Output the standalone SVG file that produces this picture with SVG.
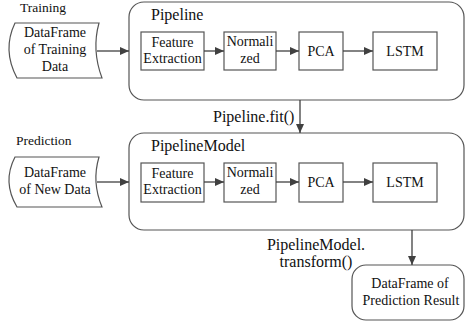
<svg xmlns="http://www.w3.org/2000/svg" width="466" height="327" viewBox="0 0 466 327">
<defs>
<marker id="ah" markerWidth="10" markerHeight="8" refX="9" refY="4" orient="auto" markerUnits="userSpaceOnUse">
<path d="M0,0 L9,4 L0,8 Z" fill="#404040"/>
</marker>
<style>
.c{text-anchor:middle;font-size:14px;}
.lbl{font-size:13.5px;}
.t{font-size:16px;}
.box{fill:#fff;stroke:#555;stroke-width:1.2;}
.con{fill:none;stroke:#404040;stroke-width:1.3;marker-end:url(#ah);}
</style>
</defs>
<g font-family="Liberation Serif, serif" fill="#111">
<g id="training-label"><text class="lbl" x="20" y="12">Training</text></g>
<g id="training-data">
<path class="box" d="M15,23 L99,23 Q91.5,50 102,78 L17,78 Q2,50 15,23 Z"/>
<text class="c" x="55" y="37">DataFrame</text>
<text class="c" x="55" y="54">of Training</text>
<text class="c" x="55" y="71">Data</text>
</g>
<g id="pipeline">
<rect class="box" x="129" y="2" width="335" height="98" rx="15"/>
<text class="t" x="151" y="20">Pipeline</text>
</g>
<g id="p-fe"><rect class="box" x="141" y="32" width="63" height="38"/><text class="c" x="172.5" y="47">Feature</text><text class="c" x="172.5" y="63">Extraction</text></g>
<g id="p-norm"><rect class="box" x="224" y="32" width="52" height="38"/><text class="c" x="250" y="46">Normali</text><text class="c" x="250" y="63">zed</text></g>
<g id="p-pca"><rect class="box" x="299" y="32" width="44" height="38"/><text class="c" x="321" y="56">PCA</text></g>
<g id="p-lstm"><rect class="box" x="373" y="32" width="64" height="38"/><text class="c" x="405" y="56">LSTM</text></g>
<g id="prediction-label"><text class="lbl" x="16" y="145">Prediction</text></g>
<g id="new-data">
<path class="box" d="M15,157 L99,157 Q91.5,182 102,207 L17,207 Q2,182 15,157 Z"/>
<text class="c" x="55" y="177">DataFrame</text>
<text class="c" x="55" y="194">of New Data</text>
</g>
<g id="pipeline-model">
<rect class="box" x="129" y="133" width="335" height="97" rx="15"/>
<text class="t" x="151" y="151">PipelineModel</text>
</g>
<g id="m-fe"><rect class="box" x="141" y="163" width="63" height="39"/><text class="c" x="172.5" y="178">Feature</text><text class="c" x="172.5" y="194">Extraction</text></g>
<g id="m-norm"><rect class="box" x="224" y="163" width="52" height="39"/><text class="c" x="250" y="177">Normali</text><text class="c" x="250" y="194">zed</text></g>
<g id="m-pca"><rect class="box" x="299" y="163" width="44" height="39"/><text class="c" x="321" y="187">PCA</text></g>
<g id="m-lstm"><rect class="box" x="373" y="163" width="64" height="39"/><text class="c" x="405" y="187">LSTM</text></g>
<g id="result">
<rect class="box" x="352" y="265" width="112" height="55" rx="14"/>
<text class="c" x="410" y="288">DataFrame of</text>
<text class="c" x="411" y="305">Prediction Result</text>
</g>
<g id="connectors">
<path class="con" d="M97,51 H129"/>
<path class="con" d="M204,51 H224"/>
<path class="con" d="M276,51 H299"/>
<path class="con" d="M343,51 H373"/>
<path class="con" d="M97,182 H129"/>
<path class="con" d="M204,182 H224"/>
<path class="con" d="M276,182 H299"/>
<path class="con" d="M343,182 H373"/>
<path class="con" d="M300,100 V133"/>
<path class="con" d="M412,230 V265"/>
<text class="t" x="213" y="122">Pipeline.fit()</text>
<text class="t" x="316" y="250" text-anchor="middle">PipelineModel.</text>
<text class="t" x="316" y="267" text-anchor="middle">transform()</text>
</g>
</g>
</svg>
